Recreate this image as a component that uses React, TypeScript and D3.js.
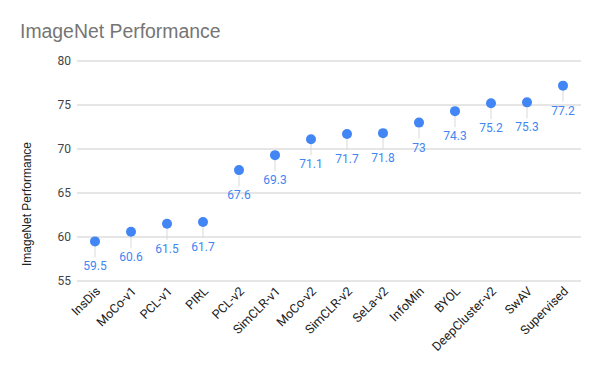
import React from "react";
import * as d3 from "d3";

const methods = [
  "InsDis", "MoCo-v1", "PCL-v1", "PIRL", "PCL-v2", "SimCLR-v1", "MoCo-v2",
  "SimCLR-v2", "SeLa-v2", "InfoMin", "BYOL", "DeepCluster-v2", "SwAV", "Supervised",
];
const scores = [59.5, 60.6, 61.5, 61.7, 67.6, 69.3, 71.1, 71.7, 71.8, 73, 74.3, 75.2, 75.3, 77.2];
const yTicks = [55, 60, 65, 70, 75, 80];

const width = 600, height = 371;
const left = 77, right = 581, top = 61, bottom = 281;

export default function App() {
  const x = d3.scaleBand().domain(methods).range([left, right]).padding(0);
  const y = d3.scaleLinear().domain([55, 80]).range([bottom, top]);
  const cx = (m: string) => (x(m) as number) + x.bandwidth() / 2;
  const font = "Roboto, Arial, sans-serif";

  return (
    <svg width={width} height={height} style={{ position: "absolute", left: 0, top: 0, background: "#fff" }}>
      <rect width={width} height={height} fill="#fff" />
      <text x={20} y={38} fontFamily="Arial, 'Liberation Sans', sans-serif" fontSize={19.4} fill="#757575">
        ImageNet Performance
      </text>

      {/* gridlines + y ticks */}
      {yTicks.map(t => (
        <g key={t}>
          <line x1={left} x2={right} y1={y(t)} y2={y(t)} stroke="#cccccc" strokeWidth={1} />
          <text x={71} y={y(t) + 4} textAnchor="end" fontFamily={font} fontSize={12} fill="#444">
            {t}
          </text>
        </g>
      ))}

      <text
        transform={`translate(31, 204) rotate(-90)`}
        textAnchor="middle" fontFamily="Arial, 'Liberation Sans', sans-serif" fontSize={12} fill="#222"
      >
        ImageNet Performance
      </text>

      {/* x labels */}
      {methods.map(m => (
        <text
          key={m}
          transform={`translate(${cx(m) + 6}, ${bottom + 11}) rotate(-45)`}
          textAnchor="end" fontFamily={font} fontSize={12.5} fill="#222"
        >
          {m}
        </text>
      ))}

      {/* points with leader lines and labels */}
      {methods.map((m, i) => (
        <g key={m}>
          <line x1={cx(m)} x2={cx(m)} y1={y(scores[i])} y2={y(scores[i]) + 16} stroke="#d9d9d9" strokeWidth={1} />
          <circle cx={cx(m)} cy={y(scores[i])} r={5} fill="#4285f4" />
          <text x={cx(m)} y={y(scores[i]) + 29} textAnchor="middle" fontFamily={font} fontSize={12} fill="#4285f4">
            {scores[i]}
          </text>
        </g>
      ))}
    </svg>
  );
}
